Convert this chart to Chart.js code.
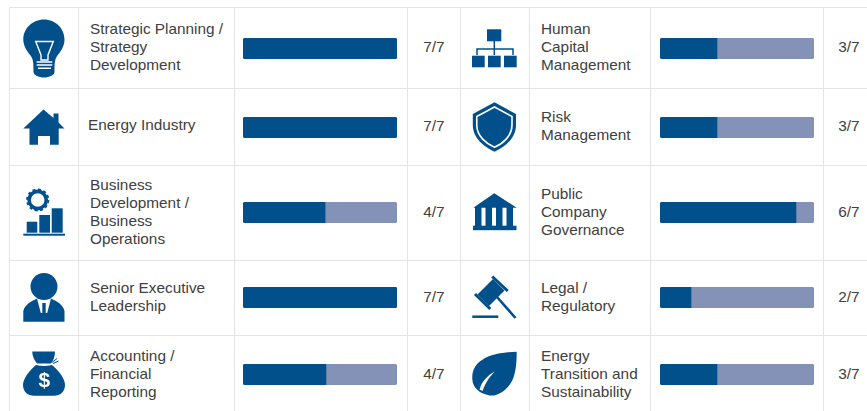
<!DOCTYPE html>
<html>
<head>
<meta charset="utf-8">
<script src="https://cdn.jsdelivr.net/npm/chart.js@4"></script>
<style>
  html, body { margin: 0; width: 867px; height: 411px; overflow: hidden; background: #fff; }
  table { position: absolute; left: 9px; top: 7px; width: 867px; table-layout: fixed; border-collapse: collapse; }
  td { border: 1px solid #e4e4e4; padding: 0; color: #404040; font: 15.35px/18px "Liberation Sans", Arial, sans-serif; }
  td.name { padding-left: 11px; white-space: pre-line; }
  td.name span, td.score span { position: relative; top: -1px; }
  td.score { text-align: center; }
  td.score.second { padding-right: 2px; }
  td.bar { padding-left: 8px; }
  td.bar.second { padding-left: 9px; }
  td.bar canvas { display: block; position: relative; }
  tr:nth-child(1) { height: 81px; }
  tr:nth-child(2) { height: 77px; }
  tr:nth-child(3) { height: 95px; }
  tr:nth-child(4) { height: 75px; }
  tr:nth-child(5) { height: 78px; }
  tr:nth-child(3) canvas, tr:nth-child(4) canvas { top: -1px; }
  tr:nth-child(2) td:nth-child(2) { padding-left: 9px; }
  tr:nth-child(2) td:nth-child(2) span { top: -2px; }
  #icons { position: absolute; left: 0; top: 0; pointer-events: none; }
</style>
</head>
<body>
<table id="grid">
  <colgroup>
    <col style="width:69px"><col style="width:156px"><col style="width:173px"><col style="width:53px">
    <col style="width:69px"><col style="width:121px"><col style="width:173px"><col style="width:53px">
  </colgroup>
  <tbody></tbody>
</table>

<svg id="icons" width="867" height="411" fill="#01508c">
  <!-- light bulb -->
  <path d="M44 19.500C32.500 19.500 23.300 28.500 23.300 39.500C23.300 47 28 52 31.500 57C33.300 60 33.500 64 33.500 72C33.500 75 39 77.500 44 77.500C49 77.500 54.500 75 54.500 72C54.500 64 54.700 60 56.500 57C60 52 64.500 47 64.500 39.500C64.500 28.500 55.500 19.500 44 19.500Z"/>
  <path d="M35.700 41.500H53.300L48 55V60H41V55Z" fill="none" stroke="#fff" stroke-width="1.400"/>
  <path d="M36.700 62H52.300M36.700 65H52.300M38 68.300H51" stroke="#fff" stroke-width="1.400"/>
  <!-- house -->
  <path d="M43.500 109.500L53.500 118V113.500H58.500V122.500L64.500 128.500H58.700V144.700H50V136H38V144.700H29.500V128.500H23.300Z"/>
  <!-- gear and bars -->
  <circle cx="37.700" cy="200" r="8.600" fill="none" stroke="#01508c" stroke-width="3.600"/>
  <circle cx="37.700" cy="200" r="10.700" fill="none" stroke="#01508c" stroke-width="1.800" stroke-dasharray="3 2.600"/>
  <rect x="26.700" y="221.700" width="10.600" height="11"/>
  <rect x="39.300" y="215" width="10.700" height="17.700"/>
  <rect x="51.700" y="208.300" width="11" height="24.400"/>
  <rect x="23.300" y="233.700" width="41.700" height="2"/>
  <!-- person -->
  <path d="M23.300 321.700V311C25 304 32 301 37 298.500H51C56 301 63 304 64.500 311V321.700Z"/>
  <path d="M37 298.500H51L47.200 313H40.800Z" fill="#fff"/>
  <circle cx="44" cy="286.500" r="13.500"/>
  <rect x="42.300" y="303" width="3.400" height="10"/>
  <!-- money bag -->
  <path d="M32.300 351.500H55C55 357 53 361 51 363.500H37C35 361 32.300 357 32.300 351.500Z"/>
  <path d="M52 362.500L57 358.500M53 363.500L58.500 361" stroke="#01508c" stroke-width="1"/>
  <path d="M36 365Q44 367 52 365C58 370 65 378 65 385C65 392 60 395.700 54 395.700H34C28 395.700 23 392 23 385C23 378 30 370 36 365Z"/>
  <text x="44.300" y="387" text-anchor="middle" fill="#fff" style="font:bold 21px 'Liberation Sans', Arial, sans-serif">$</text>
  <!-- org chart -->
  <rect x="487" y="29.300" width="14.300" height="12"/>
  <rect x="472" y="55.700" width="12.700" height="11.600"/>
  <rect x="488" y="55.700" width="12.700" height="11.600"/>
  <rect x="504" y="55.700" width="12.700" height="11.600"/>
  <path d="M494.300 41V55M477 55V49H513V55" fill="none" stroke="#01508c" stroke-width="1.500"/>
  <!-- shield -->
  <path d="M494.500 102.300L516 114V125C516 138 505 147 494.500 151.700C484 147 472.800 138 472.800 125V114Z"/>
  <path d="M494.500 107L512 116.500V125C512 136 503 143.500 494.500 147.300C486 143.500 476.800 136 476.800 125V116.500Z" stroke="#fff" stroke-width="1.600"/>
  <!-- bank -->
  <path d="M494.300 193.300L516.700 207.700H473.300Z"/>
  <rect x="475" y="207" width="6.500" height="19"/>
  <rect x="485.500" y="207" width="6.500" height="19"/>
  <rect x="496" y="207" width="6.500" height="19"/>
  <rect x="506.500" y="207" width="6.500" height="19"/>
  <rect x="473" y="225.700" width="43.500" height="4.500"/>
  <!-- gavel -->
  <path d="M493 279L504.500 290.500L489 306L477.500 294.500Z"/>
  <path d="M492.200 276.500L507.700 291M475 294L490.300 309" stroke="#01508c" stroke-width="3"/>
  <path d="M497 297L515.500 318" stroke="#01508c" stroke-width="2.500"/>
  <path d="M472.300 316.700H498.300" stroke="#01508c" stroke-width="2.500"/>
  <!-- leaf -->
  <path d="M516.700 351.700C505 352 490 354 482 360C474 365 472 372 472.300 379C472.500 384 474.500 387 477 389.500C480 393 488 395.500 491 395.500C498 396 507 390 512 381C516 373 516.700 362 516.700 351.700Z"/>
  <path d="M479.500 389.500C482 381 488 375 495 371.500C490 376 486 382 482.500 391Z" fill="#fff"/>
</svg>

<script>
// Column one of the skills matrix, top to bottom.
const leftSkills = [
  'Strategic Planning /\nStrategy\nDevelopment',
  'Energy Industry',
  'Business\nDevelopment /\nBusiness\nOperations',
  'Senior Executive\nLeadership',
  'Accounting /\nFinancial\nReporting'
];
const leftScores = ['7/7', '7/7', '4/7', '7/7', '4/7'];
const leftFilled = [7, 7, 3.73, 7, 3.77];
const leftRemaining = [0, 0, 3.27, 0, 3.23];

// Column two.
const rightSkills = [
  'Human\nCapital\nManagement',
  'Risk\nManagement',
  'Public\nCompany\nGovernance',
  'Legal /\nRegulatory',
  'Energy\nTransition and\nSustainability'
];
const rightScores = ['3/7', '3/7', '6/7', '2/7', '3/7'];
const rightFilled = [2.59, 2.59, 6.18, 1.41, 2.59];
const rightRemaining = [4.41, 4.41, 0.82, 5.59, 4.41];

const BOARD_SIZE = 7;
const DARK = '#01508c';
const LIGHT = '#8592b7';

/**
 * Draw one stacked progress bar into a canvas.
 * @param {HTMLCanvasElement} canvas The cell's canvas.
 * @param {string} label The skill name.
 * @param {number} filled The dark part.
 * @param {number} remaining The light part.
 */
function drawBar(canvas, label, filled, remaining) {
  new Chart(canvas, {
    type: 'bar',
    data: {
      labels: [label.replace(/\n/g, ' ')],
      datasets: [
        {
          data: [filled],
          backgroundColor: DARK,
          borderRadius: { topLeft: 3, bottomLeft: 3, topRight: remaining ? 0 : 3, bottomRight: remaining ? 0 : 3 },
          borderSkipped: false
        },
        {
          data: [remaining],
          backgroundColor: LIGHT,
          borderRadius: { topRight: 3, bottomRight: 3 },
          borderSkipped: false
        }
      ]
    },
    options: {
      indexAxis: 'y',
      responsive: false,
      animation: false,
      barPercentage: 1,
      categoryPercentage: 1,
      plugins: { legend: { display: false } },
      scales: {
        x: { display: false, stacked: true, min: 0, max: BOARD_SIZE },
        y: { display: false, stacked: true }
      }
    }
  });
}

function addCell(row, className, text) {
  const cell = document.createElement('td');
  cell.className = className;
  if (text) {
    const span = document.createElement('span');
    span.textContent = text;
    cell.append(span);
  }
  row.append(cell);
  return cell;
}

function addBarCell(row, className, label, filled, remaining) {
  const cell = addCell(row, className);
  const canvas = document.createElement('canvas');
  canvas.width = 154;
  canvas.height = 21;
  cell.append(canvas);
  drawBar(canvas, label, filled, remaining);
}

const body = document.querySelector('#grid tbody');
leftSkills.forEach((skill, i) => {
  const row = document.createElement('tr');
  body.append(row);
  addCell(row, 'icon');
  addCell(row, 'name', skill);
  addBarCell(row, 'bar', skill, leftFilled[i], leftRemaining[i]);
  addCell(row, 'score', leftScores[i]);
  addCell(row, 'icon');
  addCell(row, 'name', rightSkills[i]);
  addBarCell(row, 'bar second', rightSkills[i], rightFilled[i], rightRemaining[i]);
  addCell(row, 'score second', rightScores[i]);
});
</script>
</body>
</html>
